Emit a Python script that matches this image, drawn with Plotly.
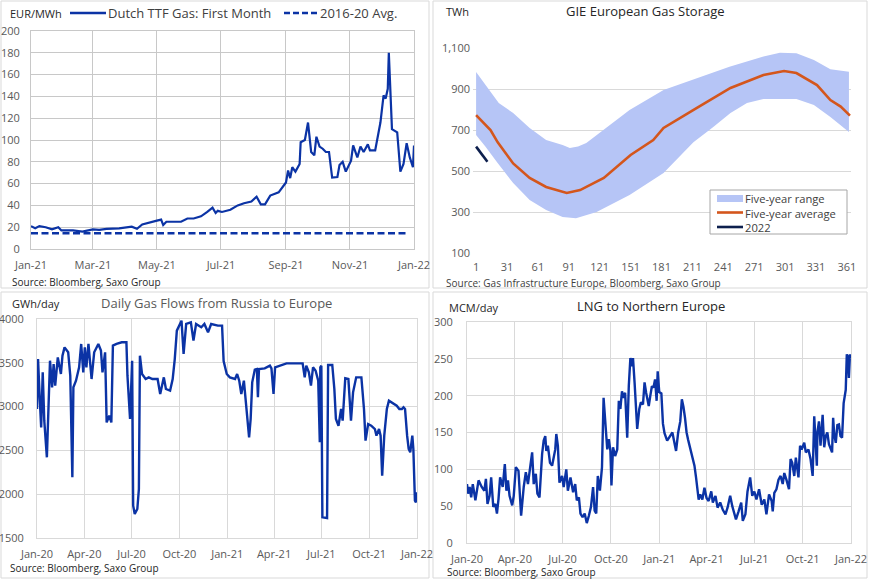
import plotly.graph_objects as go

# ---------------- DATA ----------------
# Panel 1: Dutch TTF gas, first month (EUR/MWh)
ttf_dates = ["2021-01-01","2021-01-05","2021-01-09","2021-01-15","2021-01-21","2021-01-27","2021-01-30",
             "2021-02-10","2021-02-19","2021-03-01","2021-03-07","2021-03-14","2021-03-26","2021-04-07",
             "2021-04-12","2021-04-17","2021-05-01","2021-05-05","2021-05-07","2021-05-10","2021-05-24",
             "2021-05-30","2021-06-05","2021-06-12","2021-06-18","2021-06-23","2021-06-26","2021-06-28",
             "2021-07-02","2021-07-10","2021-07-17","2021-07-23","2021-07-30","2021-08-04","2021-08-08",
             "2021-08-12","2021-08-17","2021-08-25","2021-09-01","2021-09-03","2021-09-05","2021-09-07",
             "2021-09-10","2021-09-14","2021-09-15","2021-09-19","2021-09-22","2021-09-25","2021-09-28",
             "2021-09-30","2021-10-03","2021-10-06","2021-10-09","2021-10-12","2021-10-15","2021-10-20",
             "2021-10-22","2021-10-25","2021-10-28","2021-11-02","2021-11-04","2021-11-08","2021-11-11",
             "2021-11-14","2021-11-18","2021-11-20","2021-11-25","2021-11-27","2021-11-30","2021-12-03",
             "2021-12-05","2021-12-07","2021-12-08","2021-12-11","2021-12-16","2021-12-19","2021-12-22",
             "2021-12-25","2021-12-27","2021-12-28","2021-12-31","2022-01-01"]
ttf_values = [21, 19, 21, 20, 18, 20, 17,
              17, 16, 18, 17.5, 18.5, 19, 20.5,
              18.5, 22.5, 26, 27, 22, 25, 25,
              28, 28, 30, 34, 38, 33, 35,
              34, 36, 40, 42, 43.5, 48, 41,
              41, 49, 52, 61, 72, 65, 75,
              71, 78, 98, 100, 116, 89, 86,
              103, 94, 92, 89, 89, 65.5, 66,
              77, 80, 71, 81, 95, 84, 94,
              89, 96, 90.5, 90.5, 101, 116, 141,
              138, 147, 180, 110, 107, 71, 78,
              97, 87.5, 84, 75, 95]
avg_dates = ["2021-01-01", "2021-12-27"]
avg_values = [14.5, 14.5]
ttf_tick_dates = ["2021-01-01","2021-03-01","2021-05-01","2021-07-01","2021-09-01","2021-11-01","2022-01-01"]
ttf_tick_labels = ["Jan-21","Mar-21","May-21","Jul-21","Sep-21","Nov-21","Jan-22"]

# Panel 2: GIE European gas storage (TWh) by day of year
upper_days = [1, 10, 23, 37, 53, 69, 85, 92, 100, 108, 125, 150, 183, 215, 247, 280, 296, 312, 329, 345, 355, 363]
upper_vals = [983, 920, 832, 783, 710, 651, 627, 612, 620, 636, 700, 797, 895, 952, 1009, 1058, 1077, 1074, 1041, 996, 990, 984]
lower_days = [1, 10, 21, 37, 53, 69, 85, 98, 118, 128, 150, 183, 212, 231, 248, 264, 280, 312, 329, 345, 363]
lower_vals = [676, 620, 545, 441, 358, 310, 276, 270, 300, 325, 383, 490, 640, 714, 783, 832, 851, 851, 822, 763, 690]
avg5_days = [1, 15, 22, 37, 53, 69, 89, 102, 125, 151, 173, 183, 215, 248, 280, 300, 312, 332, 345, 355, 364]
avg5_vals = [773, 700, 640, 537, 466, 422, 393, 407, 466, 578, 651, 710, 807, 905, 968, 988, 978, 919, 846, 814, 770]
y2022_days = [1, 5, 8, 12]
y2022_vals = [619, 594, 570, 545]
storage_ticks = [1, 31, 61, 91, 121, 151, 181, 211, 241, 271, 301, 331, 361]
storage_legend = ["Five-year range", "Five-year average", "2022"]

# Panel 3: daily gas flows from Russia to Europe (GWh/day)
ru_dates = ["2020-01-01","2020-01-03","2020-01-06","2020-01-09","2020-01-12","2020-01-15","2020-01-20","2020-01-22",
            "2020-01-26","2020-01-30","2020-02-02","2020-02-05","2020-02-10","2020-02-16","2020-02-19","2020-02-23",
            "2020-03-01","2020-03-05","2020-03-09","2020-03-11","2020-03-16","2020-03-22","2020-03-26","2020-03-30",
            "2020-04-02","2020-04-05","2020-04-09","2020-04-15","2020-04-20","2020-04-28","2020-05-03","2020-05-06",
            "2020-05-11","2020-05-14","2020-05-19","2020-05-23","2020-05-26","2020-06-02","2020-06-12","2020-06-21",
            "2020-06-23","2020-06-28","2020-07-02","2020-07-04","2020-07-07","2020-07-12","2020-07-15","2020-07-17",
            "2020-07-21","2020-07-28","2020-08-03","2020-08-10","2020-08-20","2020-08-25","2020-09-01","2020-09-05",
            "2020-09-13","2020-09-18","2020-09-22","2020-09-26","2020-10-01","2020-10-05","2020-10-09","2020-10-14",
            "2020-10-23","2020-10-28","2020-11-02","2020-11-12","2020-11-18","2020-11-25","2020-12-01","2020-12-14",
            "2020-12-22","2020-12-25","2020-12-31",
            "2021-01-06","2021-01-16","2021-01-20","2021-01-24","2021-01-28","2021-02-02","2021-02-07","2021-02-12",
            "2021-02-15","2021-02-18","2021-02-23","2021-02-27","2021-03-01","2021-03-03","2021-03-14","2021-03-24",
            "2021-03-27","2021-03-31","2021-04-03","2021-04-09","2021-04-16","2021-04-25","2021-05-15","2021-05-26",
            "2021-05-30","2021-06-02","2021-06-07","2021-06-11","2021-06-15","2021-06-20","2021-06-25","2021-06-28",
            "2021-06-29","2021-07-01","2021-07-03","2021-07-12","2021-07-14","2021-07-22","2021-07-26","2021-07-29",
            "2021-08-03","2021-08-08","2021-08-11","2021-08-16","2021-08-22","2021-08-27","2021-08-31","2021-09-06",
            "2021-09-16","2021-09-21","2021-09-24","2021-09-29","2021-10-05","2021-10-12","2021-10-15","2021-10-20",
            "2021-10-23","2021-10-26","2021-10-30","2021-11-04","2021-11-08","2021-11-17","2021-11-23","2021-11-28",
            "2021-12-03","2021-12-06","2021-12-09","2021-12-13","2021-12-16","2021-12-19","2021-12-23","2021-12-25",
            "2021-12-28","2021-12-30","2021-12-31","2022-01-01"]
ru_values = [2973, 3543, 3125, 2763, 3391, 2839, 2421, 2896,
             3524, 3220, 3486, 3239, 3562, 3372, 3581, 3676,
             3620, 3353, 2193, 3220, 3296, 3448, 3715, 3391,
             3676, 3448, 3715, 3315, 3620, 3715, 3639, 3391,
             3620, 2820, 2896, 2820, 3696, 3715, 3734, 3734,
             3353, 2858, 3524, 1869, 1774, 1831, 2059, 3581,
             3372, 3315, 3334, 3315, 3315, 3144, 3334, 3201,
             3182, 3315, 3543, 3867, 3943, 3981, 3601, 3943,
             3962, 3753, 3943, 3905, 3943, 3848, 3943, 3924,
             3924, 3520, 3372,
             3334, 3315, 3372, 3296, 3144, 3296, 2992, 2649,
             2858, 3277, 3422, 3429, 3106, 3429, 3437, 3467,
             3437, 3144, 3448, 3460, 3475, 3494, 3494, 3494,
             3334, 3467, 3391, 3239, 3448, 3410, 3296, 2592,
             3448, 3467, 1736, 1728, 3475, 3475, 3201, 2858,
             2782, 2973, 2839, 3323, 3315, 2839, 3163, 3334,
             3334, 2973, 2611, 2801, 2782, 2744, 2668, 2744,
             2668, 2212, 2668, 2973, 3068, 3030, 3011, 2973,
             2973, 2992, 2973, 2668, 2516, 2478, 2668, 2516,
             1926, 1907, 1964, 2021]

# Panel 4: LNG to Northern Europe (MCM/day)
lng_dates = ["2020-01-01","2020-01-03","2020-01-06","2020-01-09","2020-01-12","2020-01-17","2020-01-23","2020-01-29",
             "2020-02-03","2020-02-06","2020-02-09","2020-02-13","2020-02-16","2020-02-20","2020-02-24","2020-02-27",
             "2020-03-01","2020-03-04","2020-03-09","2020-03-13","2020-03-16","2020-03-19","2020-03-22","2020-03-27",
             "2020-03-30","2020-04-03","2020-04-08","2020-04-13","2020-04-18","2020-04-22","2020-04-26","2020-04-30",
             "2020-05-04","2020-05-07","2020-05-11","2020-05-14","2020-05-18","2020-05-23","2020-05-26","2020-05-29",
             "2020-05-31","2020-06-03","2020-06-07","2020-06-11","2020-06-14","2020-06-17","2020-06-19","2020-06-22",
             "2020-06-25","2020-06-30","2020-07-03","2020-07-08","2020-07-11","2020-07-16","2020-07-21","2020-07-25",
             "2020-07-28","2020-08-01","2020-08-04","2020-08-08","2020-08-12","2020-08-16","2020-08-20","2020-08-24",
             "2020-08-28","2020-08-31","2020-09-03","2020-09-06","2020-09-10","2020-09-14","2020-09-17","2020-09-20",
             "2020-09-24","2020-09-27","2020-09-30","2020-10-02","2020-10-05","2020-10-09","2020-10-13","2020-10-16",
             "2020-10-19","2020-10-22","2020-10-25","2020-10-28","2020-11-01","2020-11-04","2020-11-07","2020-11-10",
             "2020-11-12","2020-11-15","2020-11-20","2020-11-24","2020-11-27","2020-12-01","2020-12-04","2020-12-07",
             "2020-12-12","2020-12-15","2020-12-18","2020-12-21","2020-12-24","2020-12-27","2020-12-29",
             "2021-01-01","2021-01-05","2021-01-08","2021-01-11","2021-01-16","2021-01-21","2021-01-26","2021-01-29",
             "2021-02-02","2021-02-06","2021-02-10","2021-02-13","2021-02-16","2021-02-19","2021-02-22","2021-02-25",
             "2021-02-28","2021-03-03","2021-03-06","2021-03-09","2021-03-12","2021-03-15","2021-03-17","2021-03-20",
             "2021-03-24","2021-03-28","2021-04-01","2021-04-05","2021-04-10","2021-04-13","2021-04-18","2021-04-22",
             "2021-04-27","2021-05-02","2021-05-07","2021-05-11","2021-05-16","2021-05-20","2021-05-24","2021-05-27",
             "2021-06-01","2021-06-06","2021-06-09","2021-06-14","2021-06-18","2021-06-23","2021-06-27","2021-07-01",
             "2021-07-05","2021-07-10","2021-07-15","2021-07-20","2021-07-24","2021-07-29","2021-08-03","2021-08-05",
             "2021-08-08","2021-08-12","2021-08-16","2021-08-20","2021-08-24","2021-08-27","2021-08-31","2021-09-05",
             "2021-09-08","2021-09-11","2021-09-15","2021-09-18","2021-09-23","2021-09-26","2021-09-29","2021-10-04",
             "2021-10-07","2021-10-12","2021-10-16","2021-10-20","2021-10-23","2021-10-26","2021-10-28","2021-10-29",
             "2021-11-01","2021-11-04","2021-11-08","2021-11-11","2021-11-14","2021-11-17","2021-11-20","2021-11-26",
             "2021-11-28","2021-11-30","2021-12-03","2021-12-06","2021-12-09","2021-12-12","2021-12-15","2021-12-18",
             "2021-12-22","2021-12-24","2021-12-26","2021-12-28","2021-12-30","2021-12-31"]
lng_values = [80, 67, 76, 62, 80, 58, 85, 76,
              71, 87, 53, 64, 89, 49, 53, 40,
              60, 89, 76, 107, 71, 85, 64, 51,
              64, 103, 98, 37, 76, 96, 80, 100,
              123, 80, 94, 67, 62, 121, 139, 145,
              125, 132, 109, 105, 116, 127, 148, 132,
              82, 91, 76, 100, 71, 89, 69, 80,
              58, 62, 40, 35, 40, 27, 37, 49,
              76, 44, 40, 91, 71, 103, 197, 166,
              127, 141, 125, 78, 130, 118, 127, 193,
              182, 206, 197, 204, 143, 213, 251, 240,
              251, 218, 155, 182, 191, 188, 218, 204,
              186, 200, 213, 211, 222, 193, 233,
              205, 203, 162, 149, 139, 145, 150, 139,
              125, 150, 165, 195, 185, 170, 150, 140,
              132, 123, 116, 105, 89, 70, 59, 66,
              59, 75, 61, 57, 70, 55, 64, 48,
              55, 45, 39, 48, 64, 50, 41, 32,
              43, 55, 30, 39, 70, 89, 64, 70,
              59, 73, 52, 59, 39, 66, 57, 43,
              68, 73, 86, 91, 80, 95, 86, 73,
              114, 109, 91, 116, 89, 132, 127, 136,
              123, 127, 114, 91, 172, 136, 105, 150,
              165, 132, 174, 130, 145, 150, 134, 123,
              170, 148, 136, 160, 161, 145, 143, 190,
              208, 256, 253, 224, 256, 251]

q_tick_dates = ["2020-01-01","2020-04-01","2020-07-01","2020-10-01","2021-01-01",
                "2021-04-01","2021-07-01","2021-10-01","2022-01-01"]
q_tick_labels = ["Jan-20","Apr-20","Jul-20","Oct-20","Jan-21","Apr-21","Jul-21","Oct-21","Jan-22"]

# ---------------- STYLE / LAYOUT ----------------
W, H = 869, 582
def px(x):
    return x / W
def py(y):
    return 1 - y / H

FONT = "Open Sans"
BLUE = "#0b33a5"
BAND = "#b6c5f6"
ORANGE = "#d4561c"
NAVY = "#0d1f4d"
TICK = dict(family=FONT, size=11, color="#595959")
GRID1 = "#c8c8c8"
GRID = "#d9d9d9"

fig = go.Figure()

# Panel 1
fig.add_trace(go.Scatter(x=avg_dates, y=avg_values, mode="lines", name="2016-20 Avg.",
                         line=dict(color=BLUE, width=2.5, dash="7px,3.5px"), xaxis="x", yaxis="y"))
fig.add_trace(go.Scatter(x=ttf_dates, y=ttf_values, mode="lines", name="Dutch TTF Gas: First Month",
                         line=dict(color=BLUE, width=2.2), xaxis="x", yaxis="y"))
# Panel 2
fig.add_trace(go.Scatter(x=lower_days, y=lower_vals, mode="lines", line=dict(width=0, color=BAND),
                         xaxis="x2", yaxis="y2", hoverinfo="skip"))
fig.add_trace(go.Scatter(x=upper_days, y=upper_vals, mode="lines", name="Five-year range",
                         line=dict(width=0, color=BAND), fill="tonexty", fillcolor=BAND,
                         xaxis="x2", yaxis="y2"))
fig.add_trace(go.Scatter(x=avg5_days, y=avg5_vals, mode="lines", name="Five-year average",
                         line=dict(color=ORANGE, width=2.6), xaxis="x2", yaxis="y2"))
fig.add_trace(go.Scatter(x=y2022_days, y=y2022_vals, mode="lines", name="2022",
                         line=dict(color=NAVY, width=2.6), xaxis="x2", yaxis="y2"))
# Panel 3
fig.add_trace(go.Scatter(x=ru_dates, y=ru_values, mode="lines", line=dict(color=BLUE, width=2.4),
                         xaxis="x3", yaxis="y3"))
# Panel 4
fig.add_trace(go.Scatter(x=lng_dates, y=lng_values, mode="lines", line=dict(color=BLUE, width=2.4),
                         xaxis="x4", yaxis="y4"))

common_x = dict(showgrid=True, zeroline=False, ticks="", tickfont=TICK, fixedrange=True, automargin=False)
common_y = dict(showgrid=True, zeroline=False, ticks="", tickfont=TICK, fixedrange=True, automargin=False)

fig.update_layout(
    width=W, height=H, autosize=False, margin=dict(l=0, r=0, t=0, b=0, pad=0, autoexpand=False),
    paper_bgcolor="white", plot_bgcolor="rgba(0,0,0,0)",
    showlegend=False, font=dict(family=FONT, color="#404040"),
    xaxis=dict(common_x, domain=[px(31), px(414)], anchor="y", type="date",
               range=["2021-01-01", "2022-01-01"], tickvals=ttf_tick_dates, ticktext=ttf_tick_labels,
               gridcolor=GRID1, showline=True, mirror=True, linecolor=GRID1, ticklabelstandoff=6),
    yaxis=dict(common_y, domain=[py(249), py(31)], anchor="x", range=[0, 200], dtick=20,
               gridcolor=GRID1, showline=True, mirror=True, linecolor=GRID1, ticklabelstandoff=8),
    xaxis2=dict(common_x, domain=[px(473), px(851)], anchor="y2", range=[-2, 365],
                tickvals=storage_ticks, ticktext=[str(t) for t in storage_ticks], showgrid=False,
                ticklabelstandoff=6),
    yaxis2=dict(common_y, domain=[py(253), py(48)], anchor="x2", range=[100, 1100], tick0=100, dtick=200,
                tickformat=",", gridcolor=GRID, ticklabelstandoff=2),
    xaxis3=dict(common_x, domain=[px(37), px(417)], anchor="y3", type="date",
                range=["2020-01-01", "2022-01-01"], tickvals=q_tick_dates, ticktext=q_tick_labels,
                gridcolor=GRID, showline=True, mirror=True, linecolor=GRID, ticklabelstandoff=6),
    yaxis3=dict(common_y, domain=[py(538), py(319)], anchor="x3", range=[1500, 4000], dtick=500,
                gridcolor=GRID, showline=True, mirror=True, linecolor=GRID, ticklabelstandoff=10),
    xaxis4=dict(common_x, domain=[px(467), px(851)], anchor="y4", type="date",
                range=["2020-01-01", "2022-01-01"], tickvals=q_tick_dates, ticktext=q_tick_labels,
                gridcolor=GRID, showline=True, mirror=True, linecolor=GRID, ticklabelstandoff=6),
    yaxis4=dict(common_y, domain=[py(543), py(322)], anchor="x4", range=[0, 300], dtick=50,
                gridcolor=GRID, showline=True, mirror=True, linecolor=GRID, ticklabelstandoff=11),
)

shapes = []
# panel frames
for (x0, y0, x1, y1) in [(1, 1, 429, 288), (433, 1, 867, 288), (1, 292, 429, 578), (433, 292, 867, 578)]:
    shapes.append(dict(type="rect", xref="paper", yref="paper", x0=px(x0), x1=px(x1), y0=py(y1), y1=py(y0),
                       line=dict(color="#d9d9d9", width=1), layer="below"))
# panel 1 legend samples
shapes.append(dict(type="line", xref="paper", yref="paper", x0=px(70), x1=px(106), y0=py(13), y1=py(13),
                   line=dict(color=BLUE, width=2.5)))
shapes.append(dict(type="line", xref="paper", yref="paper", x0=px(284), x1=px(317), y0=py(13), y1=py(13),
                   line=dict(color=BLUE, width=2.5, dash="6px,3px")))
# panel 2 legend box
shapes.append(dict(type="rect", xref="paper", yref="paper", x0=px(710), x1=px(847), y0=py(234), y1=py(190),
                   line=dict(color="#a6a6a6", width=1), fillcolor="white"))
shapes.append(dict(type="rect", xref="paper", yref="paper", x0=px(717), x1=px(743), y0=py(202), y1=py(195),
                   line=dict(width=0), fillcolor=BAND))
shapes.append(dict(type="line", xref="paper", yref="paper", x0=px(717), x1=px(743), y0=py(212.5), y1=py(212.5),
                   line=dict(color=ORANGE, width=2.6)))
shapes.append(dict(type="line", xref="paper", yref="paper", x0=px(717), x1=px(743), y0=py(227), y1=py(227),
                   line=dict(color=NAVY, width=2.6)))
fig.update_layout(shapes=shapes)

def txt(x, y, s, size=11, color="#404040", anchor="left"):
    return dict(x=px(x), y=py(y), xref="paper", yref="paper", text=s, showarrow=False,
                xanchor=anchor, yanchor="middle", align="left",
                font=dict(family=FONT, size=size, color=color))

annotations = [
    txt(8, 13, "EUR/MWh", 11, "#262626"),
    txt(106, 13, "Dutch TTF Gas: First Month", 13, "#404040"),
    txt(318, 13, "2016-20 Avg.", 13, "#404040"),
    txt(10, 282, "Source: Bloomberg, Saxo Group", 10, "#262626"),
    txt(444, 11, "TWh", 11, "#262626"),
    txt(645, 11, "GIE European Gas Storage", 13, "#262626", "center"),
    txt(743, 212.5, "<br>".join(storage_legend), 11.2, "#404040"),
    txt(444, 283, "Source: Gas Infrastructure Europe, Bloomberg, Saxo Group", 10, "#404040"),
    txt(10, 303, "GWh/day", 11, "#262626"),
    txt(216, 303, "Daily Gas Flows from Russia to Europe", 13, "#595959", "center"),
    txt(8, 568, "Source: Bloomberg, Saxo Group", 10, "#262626"),
    txt(447, 307, "MCM/day", 11, "#262626"),
    txt(651, 306, "LNG to Northern Europe", 13, "#262626", "center"),
    txt(445, 572, "Source: Bloomberg, Saxo Group", 10, "#262626"),
]
fig.update_layout(annotations=annotations)

fig.write_html("out.html", config={"responsive": False, "displayModeBar": False},
               post_script="document.body.style.margin='0';document.body.style.overflow='hidden';")
